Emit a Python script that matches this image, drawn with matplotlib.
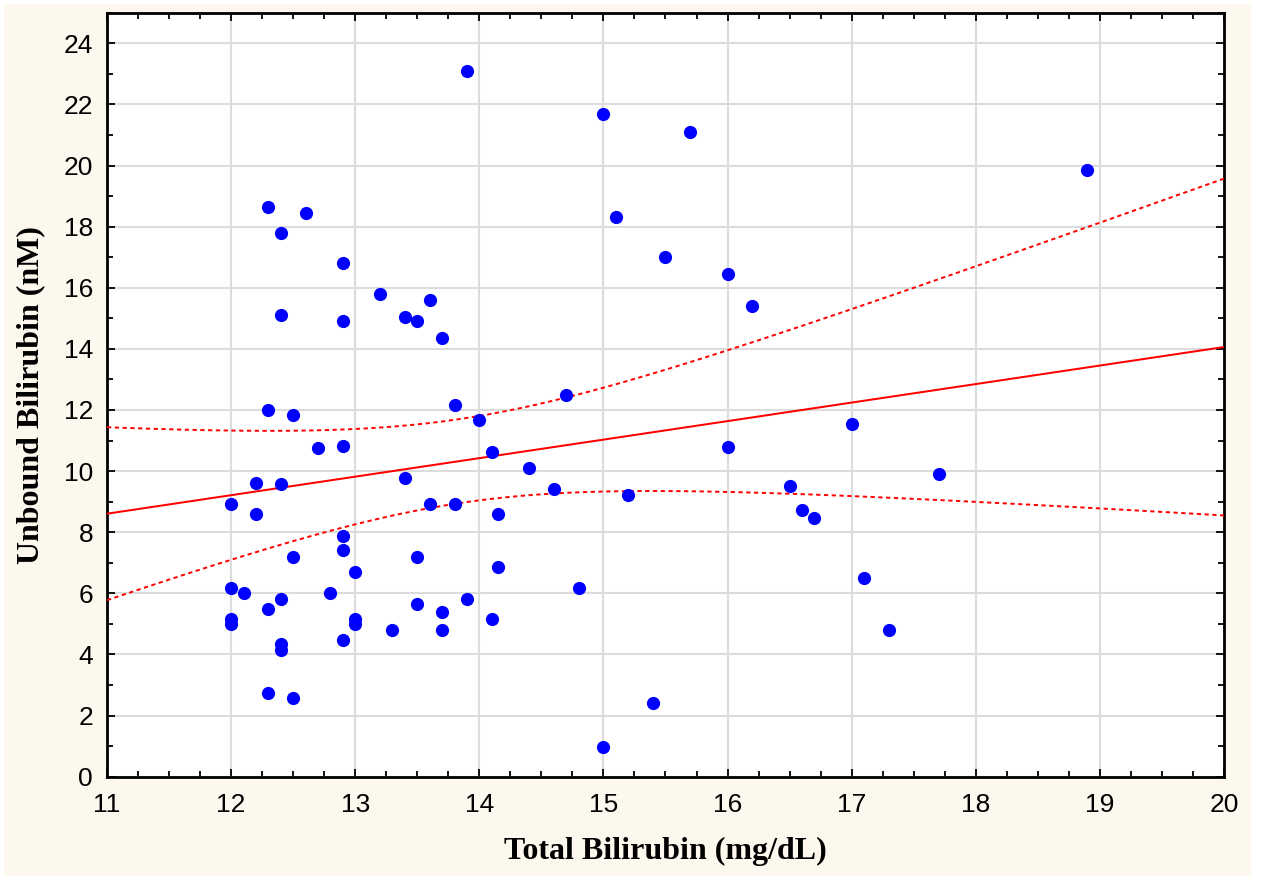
import numpy as np
import matplotlib
matplotlib.use("Agg")
import matplotlib.pyplot as plt
from matplotlib.patches import Rectangle
from matplotlib.ticker import MultipleLocator

# dati
total_bili = [
    13.9, 15.0, 15.7, 18.9, 12.3, 12.6, 12.4, 12.9, 15.1, 15.5,
    16.0, 16.2, 13.2, 13.6, 13.4, 13.5, 12.4, 12.9, 13.7, 13.8,
    14.7, 12.3, 12.5, 14.0, 17.0, 12.7, 12.9, 14.1, 16.0, 14.4,
    17.7, 13.4, 12.2, 12.4, 14.6, 16.5, 15.2, 12.0, 13.6, 13.8,
    12.2, 14.15, 16.6, 16.7, 12.9, 12.9, 12.5, 13.5, 13.0, 14.15,
    17.1, 12.0, 12.1, 12.8, 14.8, 12.4, 13.9, 12.3, 13.5, 13.7,
    12.0, 12.0, 13.0, 13.0, 14.1, 13.3, 13.7, 17.3, 12.9, 12.4,
    12.4, 12.3, 12.5, 15.4, 15.0,
]
unbound_bili = [
    23.1, 21.7, 21.1, 19.85, 18.65, 18.45, 17.8, 16.8, 18.3, 17.0,
    16.45, 15.4, 15.8, 15.6, 15.05, 14.9, 15.1, 14.9, 14.35, 12.17,
    12.5, 12.0, 11.83, 11.66, 11.55, 10.74, 10.83, 10.63, 10.8, 10.1,
    9.92, 9.78, 9.6, 9.58, 9.42, 9.5, 9.22, 8.91, 8.91, 8.91,
    8.58, 8.58, 8.72, 8.45, 7.89, 7.42, 7.2, 7.2, 6.7, 6.87,
    6.5, 6.18, 6.02, 6.02, 6.18, 5.83, 5.83, 5.5, 5.66, 5.38,
    5.17, 4.99, 5.17, 4.99, 5.15, 4.81, 4.81, 4.81, 4.47, 4.34,
    4.13, 2.75, 2.58, 2.42, 0.97,
]

# retta di regressione e banda 95% come appaiono nel grafico
FIT_INTERCEPT = 1.94
FIT_SLOPE     = 0.606
BAND_XMEAN    = 13.85
BAND_VAR0     = 1.89     # varianza della media in x = BAND_XMEAN
BAND_VAR1     = 0.753    # crescita con (x - BAND_XMEAN)^2

XLIM = (11, 20)
YLIM = (0, 25)

x = np.array(total_bili)
y = np.array(unbound_bili)

xs = np.linspace(XLIM[0], XLIM[1], 300)
ys = FIT_INTERCEPT + FIT_SLOPE * xs
half = np.sqrt(BAND_VAR0 + BAND_VAR1 * (xs - BAND_XMEAN) ** 2)

plt.rcParams['font.family'] = ['Liberation Sans', 'DejaVu Sans']

fig = plt.figure(figsize=(12.61, 8.76), dpi=100)
fig.patch.set_facecolor('white')
fig.patches.append(Rectangle((4 / 1261, 0), 1247 / 1261, 872 / 876,
                             transform=fig.transFigure, facecolor='#FDF8EE',
                             edgecolor='none', zorder=-10))

ax = fig.add_axes([107 / 1261, 1 - 776.7 / 876, 1117 / 1261, 764 / 876])
ax.set_facecolor('white')

ax.plot(xs, ys, color='#FF0000', linewidth=1.45, zorder=3)
ax.plot(xs, ys + half, color='#FF0000', linewidth=1.4,
        linestyle=(0, (2.2, 1.8)), zorder=3)
ax.plot(xs, ys - half, color='#FF0000', linewidth=1.4,
        linestyle=(0, (2.2, 1.8)), zorder=3)
ax.plot(x, y, 'o', color='#0000FF', markersize=9.5, markeredgewidth=0, zorder=4)

ax.set_xlim(*XLIM)
ax.set_ylim(*YLIM)
ax.xaxis.set_major_locator(MultipleLocator(1))
ax.xaxis.set_minor_locator(MultipleLocator(0.25))
ax.yaxis.set_major_locator(MultipleLocator(2))
ax.yaxis.set_minor_locator(MultipleLocator(1))

ax.grid(True, which='major', color='#DCDCDC', linewidth=1.5)
ax.set_axisbelow(True)

ax.tick_params(which='both', direction='in', top=True, right=True,
               color='black', labelsize=19)
ax.tick_params(axis='x', pad=12)
ax.tick_params(axis='y', pad=10)
ax.tick_params(which='major', length=6, width=1.3)
ax.tick_params(which='minor', length=4, width=1.3)
for sp in ax.spines.values():
    sp.set_linewidth(2)
    sp.set_color('black')

ax.set_xlabel('Total Bilirubin (mg/dL)', family='Liberation Serif',
              fontweight='bold', fontsize=23, labelpad=14)
ax.set_ylabel('Unbound Bilirubin (nM)', family='Liberation Serif',
              fontweight='bold', fontsize=23, labelpad=13)

fig.savefig('out.png', dpi=100)
